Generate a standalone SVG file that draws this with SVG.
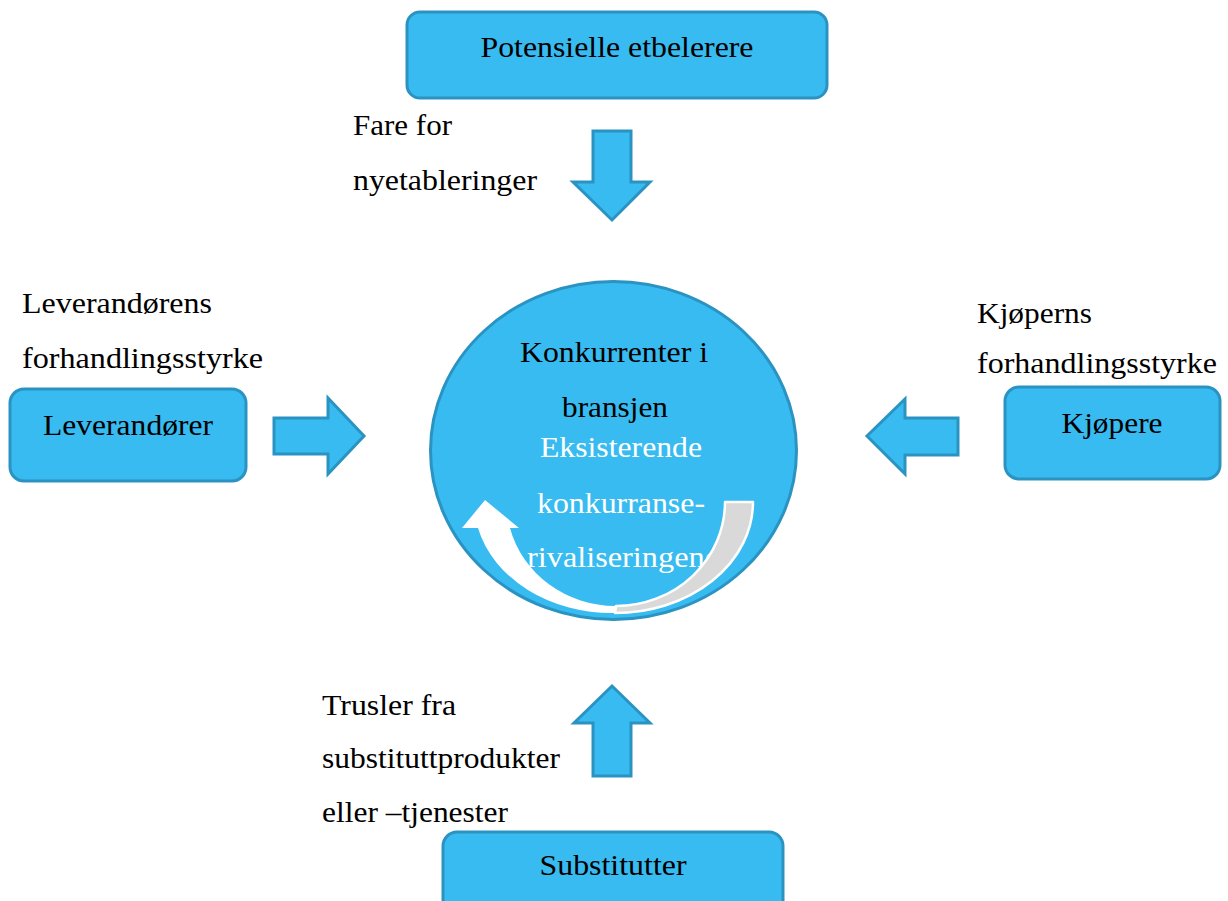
<svg xmlns="http://www.w3.org/2000/svg" width="1228" height="901" viewBox="0 0 1228 901">
  <style>
    .box { fill: #38bbf0; stroke: #2a93c2; stroke-width: 3; }
    .arrow { fill: #38bbf0; stroke: #2a93c2; stroke-width: 3; stroke-linejoin: miter; }
    .t { font-family: 'Liberation Serif', 'Times New Roman', serif; font-size: 30px; fill: #000; }
    .w { fill: #ffffff; }
    .c { text-anchor: middle; }
  </style>
  <rect width="1228" height="901" fill="#ffffff"/>

  <!-- block arrows between the forces and the centre -->
  <g id="connectors">
    <polygon class="arrow" points="593,131 631,131 631,182 650,182 612,220 573,182 593,182"/>
    <polygon class="arrow" points="274,418 328,418 328,398 364,436 328,474 328,454 274,454"/>
    <polygon class="arrow" points="958,418 905,418 905,399 867,436 905,474 905,455 958,455"/>
    <polygon class="arrow" points="593,776 631,776 631,723 650,723 612,686 574,723 593,723"/>
  </g>

  <g id="node-etablerere">
    <rect class="box" x="407" y="12" width="420" height="86" rx="13"/>
    <text class="t c" x="617" y="57" textLength="273" lengthAdjust="spacingAndGlyphs">Potensielle etbelerere</text>
  </g>

  <g id="label-nyetablering">
    <text class="t" x="353" y="135" textLength="99" lengthAdjust="spacingAndGlyphs">Fare for</text>
    <text class="t" x="353" y="190" textLength="184" lengthAdjust="spacingAndGlyphs">nyetableringer</text>
  </g>

  <g id="node-leverandorer">
    <rect class="box" x="10" y="389" width="236" height="92" rx="14"/>
    <text class="t c" x="128" y="435" textLength="170" lengthAdjust="spacingAndGlyphs">Leverandører</text>
  </g>

  <g id="label-leverandor">
    <text class="t" x="22" y="313" textLength="190" lengthAdjust="spacingAndGlyphs">Leverandørens</text>
    <text class="t" x="22" y="368" textLength="241" lengthAdjust="spacingAndGlyphs">forhandlingsstyrke</text>
  </g>

  <g id="node-kjopere">
    <rect class="box" x="1005" y="387" width="215" height="92" rx="14"/>
    <text class="t c" x="1112" y="433" textLength="101" lengthAdjust="spacingAndGlyphs">Kjøpere</text>
  </g>

  <g id="label-kjoper">
    <text class="t" x="977" y="323" textLength="115" lengthAdjust="spacingAndGlyphs">Kjøperns</text>
    <text class="t" x="977" y="373" textLength="240" lengthAdjust="spacingAndGlyphs">forhandlingsstyrke</text>
  </g>

  <g id="node-konkurrenter">
    <ellipse class="box" cx="613.5" cy="450.5" rx="183" ry="169"/>
    <text class="t c" x="614" y="362" textLength="188" lengthAdjust="spacingAndGlyphs">Konkurrenter i</text>
    <text class="t c" x="615" y="417" textLength="106" lengthAdjust="spacingAndGlyphs">bransjen</text>
    <text class="t c w" x="621" y="457" textLength="162" lengthAdjust="spacingAndGlyphs">Eksisterende</text>
    <text class="t c w" x="621" y="513" textLength="168" lengthAdjust="spacingAndGlyphs">konkurranse-</text>
    <text class="t w" x="527" y="567" textLength="192" lengthAdjust="spacingAndGlyphs">rivaliseringene</text>
    <!-- circular arrow: grey back half, white front half with head -->
    <path d="M753,502 A138,111 0 0 1 615,613 L616,606 A109,104 0 0 0 725,502 Z" fill="#d9d9d9" stroke="#ffffff" stroke-width="2.5" stroke-linejoin="round"/>
    <path d="M510,528 A109,104 0 0 0 616,606 L615,613 A138,111 0 0 1 478,528 L462,528 L485,500 L519,528 Z" fill="#ffffff"/>
  </g>

  <g id="label-substitutt">
    <text class="t" x="322" y="715" textLength="134" lengthAdjust="spacingAndGlyphs">Trusler fra</text>
    <text class="t" x="322" y="768" textLength="238" lengthAdjust="spacingAndGlyphs">substituttprodukter</text>
    <text class="t" x="322" y="822" textLength="186" lengthAdjust="spacingAndGlyphs">eller –tjenester</text>
  </g>

  <g id="node-substitutter">
    <rect class="box" x="443" y="832" width="340" height="90" rx="14"/>
    <text class="t c" x="613" y="875" textLength="147" lengthAdjust="spacingAndGlyphs">Substitutter</text>
  </g>
</svg>
